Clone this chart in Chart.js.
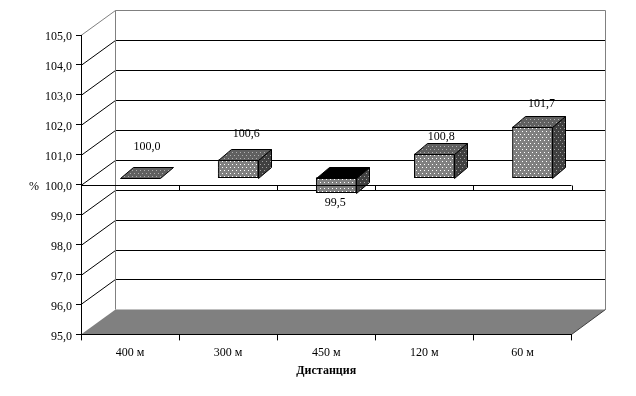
<!DOCTYPE html>
<html>
<head>
<meta charset="utf-8">
<style>
  html, body { margin: 0; padding: 0; background: #fff; }
  canvas { display: block; }
</style>
<script src="https://cdn.jsdelivr.net/npm/chart.js@4"></script>
</head>
<body>
<canvas id="myChart" width="636" height="396"></canvas>
<script>
const categories = ["400 м", "300 м", "450 м", "120 м", "60 м"];
const values = [100.0, 100.6, 99.5, 100.8, 101.7];
const baseValue = 100;
const yTickLabels = ["95,0", "96,0", "97,0", "98,0", "99,0", "100,0", "101,0", "102,0", "103,0", "104,0", "105,0"];
const xTitle = "Дистанция";
const yTitle = "%";

// 3d look: wall depth and bar depth, in pixels
const WALL_DX = 33.8, WALL_DY = -25;
const BAR_SHIFT_X = 10, BAR_SHIFT_Y = -7;
const BAR_DX = 13, BAR_DY = -11;
// labels were moved by hand in the original, so each one has its own nudge
const LABEL_NUDGE_X = [7, 8, -1, 7, 9];
const LABEL_LIFT = [31, 26, -10, 17, 23];
const FONT = "'Liberation Serif', serif";

function fmt(v) {
  return v.toFixed(1).replace(".", ",");
}

function dotted(base, dot) {
  const c = document.createElement("canvas");
  c.width = 4;
  c.height = 6;
  const g = c.getContext("2d");
  g.fillStyle = base;
  g.fillRect(0, 0, 4, 6);
  g.fillStyle = dot;
  g.fillRect(0, 0, 1, 1);
  g.fillRect(2, 3, 1, 1);
  return g.createPattern(c, "repeat");
}

const frontFill = dotted("#808080", "#ffffff");
const topFill = dotted("#606060", "#b0b0b0");
const sideFill = dotted("#404040", "#a0a0a0");

function crisp(p) {
  return Math.round(p) + 0.5;
}

function line(ctx, x1, y1, x2, y2, color) {
  ctx.strokeStyle = color;
  ctx.lineWidth = 1;
  ctx.beginPath();
  ctx.moveTo(x1, y1);
  ctx.lineTo(x2, y2);
  ctx.stroke();
}

function face(ctx, pts, fill) {
  ctx.beginPath();
  ctx.moveTo(pts[0][0], pts[0][1]);
  for (let i = 1; i < pts.length; i++) ctx.lineTo(pts[i][0], pts[i][1]);
  ctx.closePath();
  ctx.fillStyle = fill;
  ctx.fill();
  ctx.strokeStyle = "#000";
  ctx.lineWidth = 1;
  ctx.stroke();
}

const box3d = {
  id: "box3d",
  beforeDraw(chart) {
    const ctx = chart.ctx;
    const x = chart.scales.x, y = chart.scales.y;
    ctx.save();
    ctx.fillStyle = "#fff";
    ctx.fillRect(0, 0, chart.width, chart.height);

    // floor
    const fy = crisp(y.getPixelForValue(95));
    const bx = crisp(x.left + WALL_DX), rx = crisp(x.right + WALL_DX);
    ctx.beginPath();
    ctx.moveTo(x.left, fy);
    ctx.lineTo(bx, fy + WALL_DY);
    ctx.lineTo(rx, fy + WALL_DY);
    ctx.lineTo(x.right, fy);
    ctx.closePath();
    ctx.fillStyle = "#808080";
    ctx.fill();

    // grid lines on the side wall and back wall
    for (let v = 96; v <= 104; v++) {
      const py = crisp(y.getPixelForValue(v));
      line(ctx, x.left, py, bx, py + WALL_DY, "#000");
      line(ctx, bx, py + WALL_DY, rx, py + WALL_DY, "#000");
    }

    // wall outline
    const ty = crisp(y.getPixelForValue(105));
    line(ctx, x.left, ty, bx, ty + WALL_DY, "#808080");
    line(ctx, bx, ty + WALL_DY, rx, ty + WALL_DY, "#808080");
    line(ctx, bx, ty + WALL_DY, bx, fy + WALL_DY, "#808080");
    line(ctx, rx, ty + WALL_DY, rx, fy + WALL_DY, "#808080");
    line(ctx, x.right, fy, rx, fy + WALL_DY, "#404040");
    ctx.restore();
  },
  beforeDatasetDraw(chart) {
    chart.ctx.save();
    chart.ctx.translate(BAR_SHIFT_X, BAR_SHIFT_Y);
  },
  afterDatasetDraw(chart) {
    const ctx = chart.ctx;
    chart.getDatasetMeta(0).data.forEach((bar, i) => {
      const left = crisp(bar.x - bar.width / 2);
      const right = crisp(bar.x + bar.width / 2);
      const top = crisp(Math.min(bar.y, bar.base));
      const bottom = crisp(Math.max(bar.y, bar.base));
      if (bottom - top > 1) {
        face(ctx, [[right, top], [right + BAR_DX, top + BAR_DY], [right + BAR_DX, bottom + BAR_DY], [right, bottom]], sideFill);
      }
      face(ctx, [[left, top], [left + BAR_DX, top + BAR_DY], [right + BAR_DX, top + BAR_DY], [right, top]],
        values[i] < baseValue ? "#000" : topFill);
    });
    ctx.restore();
  },
  afterDatasetsDraw(chart) {
    const ctx = chart.ctx;
    const x = chart.scales.x, y = chart.scales.y;
    ctx.save();

    // category axis crossing at 100, it sits in front of the bars
    const ay = crisp(y.getPixelForValue(baseValue));
    line(ctx, x.left, ay, x.right, ay, "#000");
    for (let i = 1; i <= categories.length; i++) {
      const tx = crisp(x.left + i * x.width / categories.length);
      line(ctx, tx, ay, tx, ay + 5, "#000");
    }

    ctx.fillStyle = "#000";
    ctx.font = "12px " + FONT;
    ctx.textAlign = "center";
    ctx.textBaseline = "middle";
    const meta = chart.getDatasetMeta(0);
    values.forEach((v, i) => {
      const bar = meta.data[i];
      ctx.fillText(fmt(v), bar.x + BAR_SHIFT_X + LABEL_NUDGE_X[i], y.getPixelForValue(v) + BAR_SHIFT_Y - LABEL_LIFT[i]);
    });
    ctx.fillText(yTitle, 34, ay + 1);
    ctx.restore();
  }
};

new Chart(document.getElementById("myChart"), {
  type: "bar",
  data: {
    labels: categories,
    datasets: [{
      data: values.map((v) => [baseValue, v]),
      backgroundColor: frontFill,
      borderColor: "#000",
      borderWidth: 1,
      borderSkipped: false,
      barThickness: 40
    }]
  },
  options: {
    responsive: false,
    animation: false,
    devicePixelRatio: 1,
    layout: {
      padding: { left: 0, right: 64.5, top: 35, bottom: 18 }
    },
    plugins: {
      legend: { display: false },
      tooltip: { enabled: false }
    },
    scales: {
      x: {
        afterFit: (scale) => { scale.height = 43.6; },
        grid: {
          drawOnChartArea: false,
          color: "#000",
          tickLength: 6
        },
        border: { color: "#000" },
        ticks: {
          color: "#000",
          padding: 5,
          maxRotation: 0,
          font: { family: FONT, size: 12 }
        },
        title: {
          display: true,
          text: xTitle,
          color: "#000",
          padding: { top: 3, bottom: 0 },
          font: { family: FONT, size: 12, weight: "bold" }
        }
      },
      y: {
        min: 95,
        max: 105,
        afterFit: (scale) => { scale.width = 81; },
        grid: {
          drawOnChartArea: false,
          color: "#000",
          tickLength: 5
        },
        border: { color: "#000" },
        ticks: {
          color: "#000",
          stepSize: 1,
          padding: 4,
          labelOffset: 2,
          font: { family: FONT, size: 12 },
          callback: (v, i) => yTickLabels[i]
        }
      }
    }
  },
  plugins: [box3d]
});
</script>
</body>
</html>
